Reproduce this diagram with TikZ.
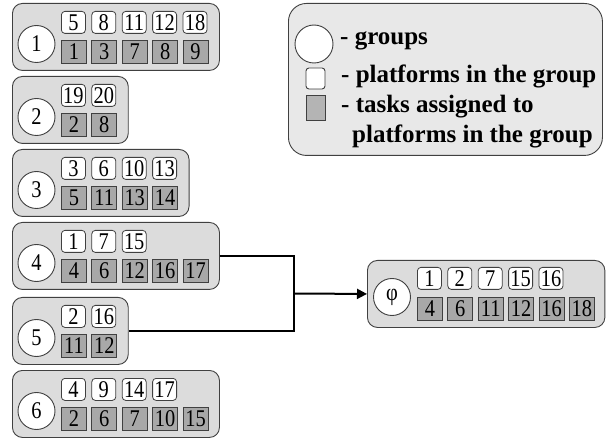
\documentclass[tikz,border=0pt]{standalone}
\usepackage{fontspec}
\setmainfont{Liberation Serif}
\newfontfamily\numfont[FakeStretch=0.85]{Liberation Serif}
\usetikzlibrary{arrows.meta}
\definecolor{grpfill}{HTML}{DCDCDC}
\definecolor{legfill}{HTML}{E8E8E8}
\definecolor{taskfill}{HTML}{A8A8A8}
\definecolor{legtask}{HTML}{B4B4B4}
\definecolor{edge}{HTML}{404040}
\newcommand{\numsize}{\fontsize{24}{24}\selectfont\numfont}
\tikzset{
  grpbox/.style={draw=edge, fill=grpfill, line width=0.9pt, rounded corners=10pt, inner sep=0pt, anchor=north west, minimum height=67pt},
  grpcirc/.style={circle, draw=edge, fill=white, line width=0.9pt, minimum size=37pt, inner sep=0pt, font=\numsize},
  platbox/.style={draw=edge, fill=white, line width=0.8pt, rounded corners=3.5pt, minimum width=24pt, minimum height=22pt, inner sep=0pt, anchor=north west, font=\numsize},
  taskbox/.style={draw=edge, fill=taskfill, line width=0.8pt, minimum width=25pt, minimum height=23pt, inner sep=0pt, anchor=north west, font=\numsize},
  legtext/.style={anchor=base west, inner sep=0pt, font=\bfseries\fontsize{25}{25}\selectfont},
  conn/.style={line width=2pt, black}
}
\newcommand{\mkgroup}[6]{% name, top, ncols, label, platforms, tasks
  \node[grpbox, minimum width={49+#3*30.4+6}] (#1) at (12,#2) {};
  \node[grpcirc] (#1c) at (36.5,#2+41) {#4};
  \foreach \v [count=\k from 0] in {#5} {
    \node[platbox] (#1p\k) at (61+\k*30.4,#2+8) {\v};
  }
  \foreach \v [count=\k from 0] in {#6} {
    \node[taskbox] (#1t\k) at (61+\k*30.4,#2+37) {\v};
  }
}
\begin{document}
\begin{tikzpicture}[x=1pt,y=-1pt]
\useasboundingbox (0,0) rectangle (606,441);
\mkgroup{g1}{3}{5}{1}{5,8,11,12,18}{1,3,7,8,9}
\mkgroup{g2}{76}{2}{2}{19,20}{2,8}
\mkgroup{g3}{149}{4}{3}{3,6,10,13}{5,11,13,14}
\mkgroup{g4}{222}{5}{4}{1,7,15}{4,6,12,16,17}
\mkgroup{g5}{297}{2}{5}{2,16}{11,12}
\mkgroup{g6}{370}{5}{6}{4,9,14,17}{2,6,7,10,15}
% phi group
\node[grpbox, minimum width={49+6*30.4+6}] (gp) at (367,260) {};
\node[grpcirc] (gpc) at (392,297) {φ};
\foreach \v [count=\k from 0] in {1,2,7,15,16} {
  \node[platbox] (gpp\k) at (417+\k*30.4,267) {\v};
}
\foreach \v [count=\k from 0] in {4,6,11,12,16,18} {
  \node[taskbox] (gpt\k) at (417+\k*30.4,297) {\v};
}
% connectors
\coordinate (j) at (294,293.5);
\draw[conn] (g4.east) -| (j) |- (g5.east);
\draw[conn, -{Triangle[length=10pt,width=10pt]}] (j) -- (gp.west);
% legend
\node[draw=edge, fill=legfill, line width=0.9pt, rounded corners=18pt, minimum width=314pt, minimum height=152pt, anchor=north west, inner sep=0pt] (leg) at (288,3) {};
\node[circle, draw=edge, fill=white, line width=0.9pt, minimum size=38pt, inner sep=0pt] (legc) at (314,44) {};
\node[draw=edge, fill=white, line width=0.9pt, rounded corners=3pt, minimum width=19pt, minimum height=21pt, inner sep=0pt] (legp) at (315.5,78.5) {};
\node[draw=edge, fill=legtask, line width=0.9pt, minimum width=19pt, minimum height=25pt, inner sep=0pt] (legt) at (315.5,107.5) {};
\node[legtext] (l1) at (340,45) {- groups};
\node[legtext] (l2) at (341,83) {- platforms in the group};
\node[legtext] (l3) at (341,113) {- tasks assigned to};
\node[legtext] (l4) at (352,143) {platforms in the group};
\end{tikzpicture}
\end{document}
